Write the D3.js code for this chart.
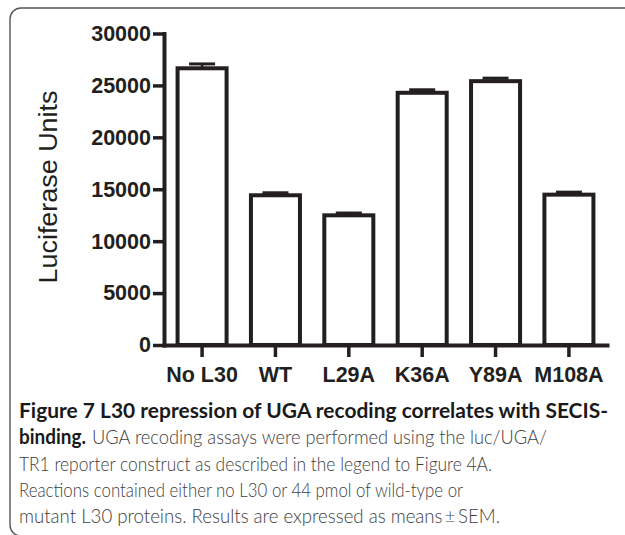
<!DOCTYPE html>
<html>
<head>
<meta charset="utf-8">
<script src="https://cdn.jsdelivr.net/npm/d3@7"></script>
<style>
  body { margin: 0; background: #fff; }
  svg { display: block; }
</style>
</head>
<body>
<script>
const width = 625,
      height = 535;

// values
const groups = ["No L30", "WT", "L29A", "K36A", "Y89A", "M108A"];
const means = [26650, 14420, 12490, 24290, 25410, 14480];
const sems = [420, 240, 220, 290, 290, 240];
const yTicks = [0, 5000, 10000, 15000, 20000, 25000, 30000];

const yTitle = "Luciferase Units";
// caption pieces: text, bold, line, start x, width
const captionParts = [
  {t: "Figure 7 L30 repression of UGA recoding correlates with SECIS-", b: true, line: 0, x0: 19, w: 589},
  {t: "binding.", b: true, line: 1, x0: 19, w: 67},
  {t: "UGA recoding assays were performed using the luc/UGA/", b: false, line: 1, x0: 92, w: 455},
  {t: "TR1 reporter construct as described in the legend to Figure 4A.", b: false, line: 2, x0: 19, w: 473},
  {t: "Reactions contained either no L30 or 44 pmol of wild-type or", b: false, line: 3, x0: 19, w: 444},
  {t: "mutant L30 proteins. Results are expressed as means\u2009\u00b1\u2009SEM.", b: false, line: 4, x0: 19, w: 481}
];

const ink = "#231f20";

const svg = d3.select("body").append("svg")
    .attr("width", width)
    .attr("height", height);

// frame round the figure
svg.append("rect")
    .attr("x", 10).attr("y", 8)
    .attr("width", 700).attr("height", 528)
    .attr("rx", 11).attr("ry", 11)
    .attr("fill", "none")
    .attr("stroke", "#555")
    .attr("stroke-width", 1.4);

const x = d3.scaleBand()
    .domain(groups)
    .range([164, 607])
    .paddingInner(0.332)
    .paddingOuter(0.185);

const y = d3.scaleLinear()
    .domain([0, 30000])
    .range([345, 33.5]);

// bars
svg.selectAll(".bar")
  .data(groups)
  .enter().append("rect")
    .attr("class", "bar")
    .attr("x", d => x(d))
    .attr("y", (d, i) => y(means[i]))
    .attr("width", x.bandwidth())
    .attr("height", (d, i) => y(0) - y(means[i]))
    .attr("fill", "#fff")
    .attr("stroke", ink)
    .attr("stroke-width", 4);

// error bars (upper half only)
const capHalf = 13;
svg.selectAll(".err-stem")
  .data(groups)
  .enter().append("line")
    .attr("x1", d => x(d) + x.bandwidth() / 2)
    .attr("x2", d => x(d) + x.bandwidth() / 2)
    .attr("y1", (d, i) => y(means[i]))
    .attr("y2", (d, i) => y(means[i] + sems[i]))
    .attr("stroke", ink)
    .attr("stroke-width", 2.5);

svg.selectAll(".err-cap")
  .data(groups)
  .enter().append("line")
    .attr("x1", d => x(d) + x.bandwidth() / 2 - capHalf)
    .attr("x2", d => x(d) + x.bandwidth() / 2 + capHalf)
    .attr("y1", (d, i) => y(means[i] + sems[i]))
    .attr("y2", (d, i) => y(means[i] + sems[i]))
    .attr("stroke", ink)
    .attr("stroke-width", 3);

// axes
const yAxis = svg.append("g")
    .attr("transform", "translate(164,0)")
    .call(d3.axisLeft(y).tickValues(yTicks).tickFormat(d3.format("d")).tickSize(11).tickSizeOuter(0).tickPadding(2));

const xAxis = svg.append("g")
    .attr("transform", "translate(0,345)")
    .call(d3.axisBottom(x).tickSize(12).tickSizeOuter(0).tickPadding(10));

[yAxis, xAxis].forEach(g => {
    g.select(".domain").attr("stroke", ink).attr("stroke-width", 4).attr("stroke-linecap", "square");
    g.selectAll(".tick line").attr("stroke", ink).attr("stroke-width", 3.5);
    g.selectAll(".tick text")
      .attr("fill", ink)
      .style("font-family", "'Liberation Sans', Arial, sans-serif")
      .style("font-weight", "bold")
      .style("font-size", "21.5px");
});

// y title
svg.append("text")
    .attr("transform", "translate(57,187) rotate(-90)")
    .attr("text-anchor", "middle")
    .attr("textLength", 193)
    .attr("lengthAdjust", "spacingAndGlyphs")
    .attr("fill", ink)
    .style("font-family", "'Liberation Sans', Arial, sans-serif")
    .style("font-size", "25px")
    .text(yTitle);

// caption
svg.append("g")
    .style("font-family", "Lato, 'Open Sans', sans-serif")
    .style("font-size", "20.5px")
  .selectAll("text")
  .data(captionParts)
  .enter().append("text")
    .attr("x", d => d.x0)
    .attr("y", d => 418 + d.line * 26.3)
    .attr("textLength", d => d.w)
    .attr("lengthAdjust", "spacingAndGlyphs")
    .attr("fill", d => d.b ? "#1a1a1a" : "#404040")
    .style("font-weight", d => d.b ? "bold" : "300")
    .text(d => d.t);
</script>
</body>
</html>
